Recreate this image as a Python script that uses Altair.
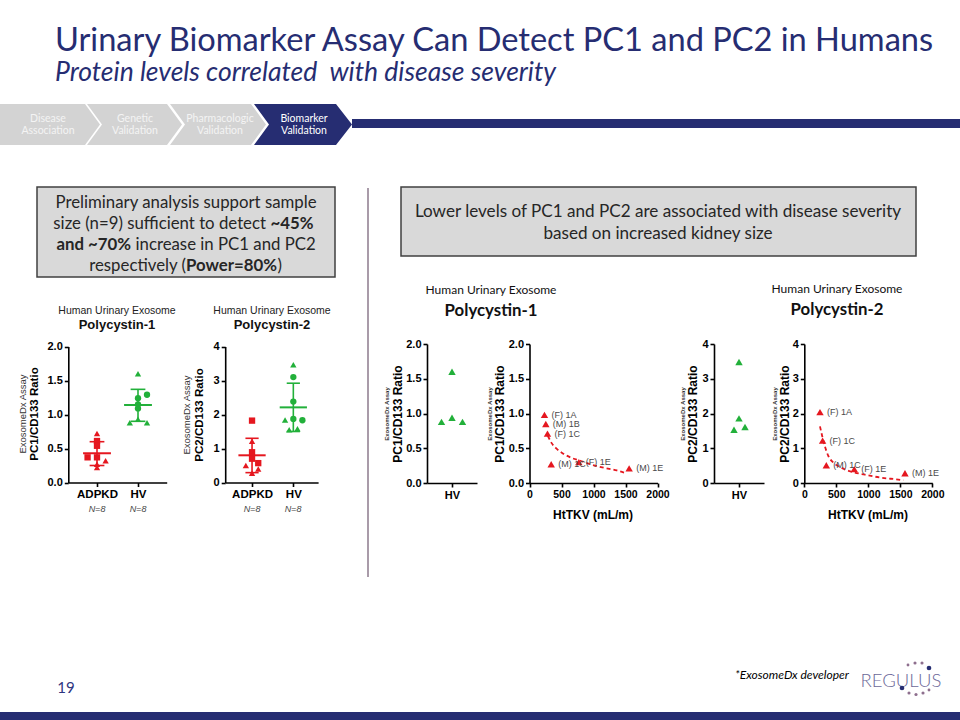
import altair as alt
import pandas as pd

W, H = 960, 720
NAVY = "#262D72"
RED = "#E5171F"
GREEN = "#22B03A"
FONT = "Lato"
ARIAL = "Liberation Sans"
NB = "\u00a0"

# ---------------- data ----------------
pc1_adpkd = [0.72, 0.61, 0.54, 0.37, 0.37, 0.32, 0.27, 0.22]
pc1_adpkd_shape = ["triangle-up", "square", "square", "square", "square", "triangle-up", "triangle-up", "triangle-up"]
pc1_adpkd_jit = [0, 0, 0, -0.23, 0, 0.21, 0, 0]
pc1_hv = [1.60, 1.29, 1.24, 1.15, 1.09, 0.93, 0.88, 0.88]
pc1_hv_shape = ["triangle-up", "circle", "circle", "circle", "circle", "triangle-up", "triangle-up", "triangle-up"]
pc1_hv_jit = [0, 0.22, 0, 0, 0, 0, -0.2, 0.22]
pc1_mean = [0.43, 1.14]
pc1_sd_lo = [0.25, 0.90]
pc1_sd_hi = [0.60, 1.37]

pc2_adpkd = [1.82, 1.21, 0.89, 0.70, 0.57, 0.50, 0.40, 0.27]
pc2_adpkd_shape = ["square", "triangle-up", "square", "square", "square", "triangle-up", "triangle-up", "triangle-up"]
pc2_adpkd_jit = [0, 0, 0, 0, 0.15, -0.15, 0.15, 0]
pc2_hv = [3.46, 3.10, 2.38, 1.87, 1.84, 1.83, 1.58, 1.55]
pc2_hv_shape = ["triangle-up", "circle", "circle", "circle", "triangle-up", "circle", "triangle-up", "triangle-up"]
pc2_hv_jit = [0, 0, 0, 0, -0.2, 0.22, 0.1, -0.1]
pc2_mean = [0.80, 2.21]
pc2_sd_lo = [0.29, 1.50]
pc2_sd_hi = [1.30, 2.92]

hv_pc1 = [1.60, 0.94, 0.88, 0.88]
hv_pc1_jit = [0, 0, -0.42, 0.42]
hv_pc2 = [3.48, 1.86, 1.61, 1.53]
hv_pc2_jit = [0, 0, 0.24, -0.2]

tkv_pc1_labels = ["(F) 1A", "(M) 1B", "(F) 1C", "(M) 1C", "(F) 1E", "(M) 1E"]
tkv_pc1_x = [234, 255, 281, 339, 771, 1557]
tkv_pc1_y = [0.98, 0.85, 0.71, 0.27, 0.30, 0.21]
fit_pc1_x = [286, 349, 427, 531, 661, 792, 948, 1156, 1365, 1505]
fit_pc1_y = [0.68, 0.57, 0.49, 0.42, 0.36, 0.32, 0.27, 0.22, 0.18, 0.14]

tkv_pc2_labels = ["(F) 1A", "(F) 1C", "(M) 1C", "(F) 1E", "(M) 1E"]
tkv_pc2_x = [245, 286, 344, 781, 1573]
tkv_pc2_y = [2.04, 1.22, 0.51, 0.40, 0.28]
fit_pc2_x = [245, 281, 323, 375, 453, 557, 729, 948, 1208, 1469, 1547]
fit_pc2_y = [1.63, 1.34, 1.05, 0.78, 0.59, 0.46, 0.33, 0.24, 0.15, 0.10, 0.08]

groups = ["ADPKD", "HV"]

# ---------------- helpers ----------------
def sc(domain, rng):
    return alt.Scale(domain=domain, range=rng, nice=False, zero=False)


def ax_style(size=11):
    return dict(grid=False, title=None, labelFont=ARIAL, labelFontWeight="bold",
                labelFontSize=size, labelColor="black", domainColor="black",
                domainWidth=1.6, tickColor="black", tickWidth=1.6, tickSize=4,
                labelPadding=2, labelOverlap=False, labelFlush=False, labelBound=False)


def y_axis(xpix, values, fmt):
    return alt.Axis(orient="left", offset=-xpix, values=values, format=fmt, **ax_style(11))


def x_axis(ypix, values, expr=None, fmt=None, size=11):
    kw = ax_style(size)
    if expr:
        kw["labelExpr"] = expr
    if fmt:
        kw["format"] = fmt
    return alt.Axis(orient="bottom", offset=ypix - H, values=values, **kw)


ONE = pd.DataFrame({"a": [0]})


def txt(s, x, y, size=12, weight="normal", color="#222222", font=FONT,
        align="center", angle=0, style="normal", baseline="middle"):
    kw = dict(text=s, fontSize=size, fontWeight=weight, color=color, font=font,
              align=align, baseline=baseline, fontStyle=style)
    if angle:
        kw["angle"] = angle
    return alt.Chart(ONE).mark_text(**kw).encode(x=alt.value(x), y=alt.value(y))


def path_shape(p, color):
    return alt.Chart(ONE).mark_point(shape=p, size=4, filled=True, opacity=1,
                                     color=color, strokeWidth=0).encode(
        x=alt.value(0), y=alt.value(0))


def rect(x1, x2, y1, y2, fill, stroke=None, sw=0):
    kw = dict(fill=fill, opacity=1)
    if stroke:
        kw.update(stroke=stroke, strokeWidth=sw)
    return alt.Chart(ONE).mark_rect(**kw).encode(
        x=alt.value(x1), x2=alt.value(x2), y=alt.value(y1), y2=alt.value(y2))


def group_panel(vals, shapes, jits, means, los, his, xsc, ysc, xax, yax, mw, cw, size):
    rows = []
    for gi, (v, s, j) in enumerate(zip(vals, shapes, jits)):
        for vv, ss, jj in zip(v, s, j):
            rows.append({"xpos": gi + 1 + jj, "val": vv, "shape": ss,
                         "col": RED if gi == 0 else GREEN})
    df = pd.DataFrame(rows)
    st = pd.DataFrame({"g": [1, 2], "mean": means, "lo": los, "hi": his,
                       "col": [RED, GREEN]})
    st["ml"] = st["g"] - mw
    st["mr"] = st["g"] + mw
    st["cl"] = st["g"] - cw
    st["cr"] = st["g"] + cw
    col = alt.Color("col:N", scale=None, legend=None)
    pts = alt.Chart(df).mark_point(filled=True, opacity=1, size=size, strokeWidth=0).encode(
        x=alt.X("xpos:Q", scale=xsc, axis=xax),
        y=alt.Y("val:Q", scale=ysc, axis=yax),
        shape=alt.Shape("shape:N", scale=None, legend=None),
        color=col)
    b = alt.Chart(st)
    mean = b.mark_rule(strokeWidth=2).encode(
        x=alt.X("ml:Q", scale=xsc, axis=None), x2="mr:Q",
        y=alt.Y("mean:Q", scale=ysc, axis=None), color=col)
    vert = b.mark_rule(strokeWidth=1.6).encode(
        x=alt.X("g:Q", scale=xsc, axis=None),
        y=alt.Y("lo:Q", scale=ysc, axis=None), y2="hi:Q", color=col)
    caplo = b.mark_rule(strokeWidth=1.6).encode(
        x=alt.X("cl:Q", scale=xsc, axis=None), x2="cr:Q",
        y=alt.Y("lo:Q", scale=ysc, axis=None), color=col)
    caphi = b.mark_rule(strokeWidth=1.6).encode(
        x=alt.X("cl:Q", scale=xsc, axis=None), x2="cr:Q",
        y=alt.Y("hi:Q", scale=ysc, axis=None), color=col)
    return [vert, caplo, caphi, mean, pts]


def hv_panel(vals, jits, xsc, ysc, xax, yax):
    df = pd.DataFrame({"xpos": [1 + j for j in jits], "val": vals})
    return [alt.Chart(df).mark_point(shape="triangle-up", filled=True, opacity=1,
                                     size=55, color=GREEN, strokeWidth=0).encode(
        x=alt.X("xpos:Q", scale=xsc, axis=xax),
        y=alt.Y("val:Q", scale=ysc, axis=yax))]


def tkv_panel(lbl, xs, ys, fx, fy, xsc, ysc, xax, yax):
    df = pd.DataFrame({"tkv": xs, "val": ys, "lbl": lbl})
    fit = pd.DataFrame({"tkv": fx, "val": fy})
    line = alt.Chart(fit).mark_line(color=RED, strokeDash=[4, 3], strokeWidth=1.8,
                                    interpolate="monotone").encode(
        x=alt.X("tkv:Q", scale=xsc, axis=None),
        y=alt.Y("val:Q", scale=ysc, axis=None))
    pts = alt.Chart(df).mark_point(shape="triangle-up", filled=True, opacity=1,
                                   size=55, color=RED, strokeWidth=0).encode(
        x=alt.X("tkv:Q", scale=xsc, axis=xax),
        y=alt.Y("val:Q", scale=ysc, axis=yax))
    lab = alt.Chart(df).mark_text(align="left", dx=7, fontSize=9, font=ARIAL,
                                  color="#4a4a4a").encode(
        x=alt.X("tkv:Q", scale=xsc, axis=None),
        y=alt.Y("val:Q", scale=ysc, axis=None), text="lbl:N")
    return [line, pts, lab]


layers = []

# ---------------- slide decoration ----------------
layers.append(txt("Urinary Biomarker Assay Can Detect PC1 and PC2 in Humans", 55, 51,
                  size=32.6, color=NAVY, align="left", baseline="alphabetic"))
layers.append(txt("Protein levels correlated" + NB + " with disease severity", 55, 81,
                  size=26.5, color=NAVY, align="left", style="italic", baseline="alphabetic"))

# chevron process bar
layers.append(path_shape("M352,119L960,119L960,128L352,128Z", NAVY))
layers.append(path_shape("M0,104L85,104L100,124.5L85,145L0,145Z", "#D3D3D3"))
layers.append(path_shape("M87,104L167,104L182,124.5L167,145L87,145L102,124.5Z", "#D3D3D3"))
layers.append(path_shape("M170,104L251,104L266,124.5L251,145L170,145L185,124.5Z", "#D3D3D3"))
layers.append(path_shape("M254,104L336,104L352,124.5L336,145L254,145L269,124.5Z", NAVY))
for (a, b_, xc, c) in [("Disease", "Association", 48, "#F4F4F4"),
                       ("Genetic", "Validation", 135, "#F4F4F4"),
                       ("Pharmacologic", "Validation", 220, "#F4F4F4"),
                       ("Biomarker", "Validation", 304, "white")]:
    layers.append(txt(a, xc, 119, size=10.5, color=c))
    layers.append(txt(b_, xc, 131, size=10.5, color=c))

# text boxes
layers.append(rect(37, 335, 187, 277, "#D9D9D9", "#404040", 1.5))
layers.append(rect(401, 916, 187, 256, "#D9D9D9", "#404040", 1.5))
BT = "#262626"
FS = 16.8
layers.append(txt("Preliminary analysis support sample", 186, 203, size=FS, color=BT))
layers.append(txt("size (n=9) sufficient to detect", 266, 224, size=FS, color=BT, align="right"))
layers.append(txt("~45%", 270.5, 224, size=FS, color=BT, align="left", weight="bold"))
layers.append(txt("and ~70%", 131, 245, size=FS, color=BT, align="right", weight="bold"))
layers.append(txt("increase in PC1 and PC2", 135.5, 245, size=FS, color=BT, align="left"))
layers.append(txt("respectively (", 186, 266, size=FS, color=BT, align="right"))
layers.append(txt("Power=80%", 186, 266, size=FS, color=BT, align="left", weight="bold"))
layers.append(txt(")", 277.5, 266, size=FS, color=BT, align="left"))
layers.append(txt("Lower levels of PC1 and PC2 are associated with disease severity", 658, 212, size=17.1, color=BT))
layers.append(txt("based on increased kidney size", 658, 234, size=17.1, color=BT))

# separator
layers.append(alt.Chart(ONE).mark_rule(color="#8C7A8C", strokeWidth=1.5).encode(
    x=alt.value(368), y=alt.value(188), y2=alt.value(577)))

# panel headers
for xc, name in [(117, "Polycystin-1"), (272, "Polycystin-2")]:
    layers.append(txt("Human Urinary Exosome", xc, 311, size=10.5, font=ARIAL, color="#222"))
    layers.append(txt(name, xc, 325, size=13, font=ARIAL, weight="bold", color="#111"))
for xc, yc, name in [(491, 290, "Polycystin-1"), (837, 289, "Polycystin-2")]:
    layers.append(txt("Human Urinary Exosome", xc, yc, size=12, color="#111"))
    layers.append(txt(name, xc, yc + 21, size=16.8, weight="bold", color="#111"))

# y axis titles
for x1, x2, yc, t in [(23, 35, 414, "PC1/CD133 Ratio"), (187, 200, 415, "PC2/CD133 Ratio")]:
    layers.append(txt("ExosomeDx Assay", x1, yc, size=9.5, font=ARIAL, color="#333", angle=270))
    layers.append(txt(t, x2, yc, size=11.5, font=ARIAL, weight="bold", color="black", angle=270))
for x1, x2, t in [(387, 398, "PC1/CD133 Ratio"), (490, 500, "PC1/CD133 Ratio"),
                  (683, 693, "PC2/CD133 Ratio"), (775, 785, "PC2/CD133 Ratio")]:
    layers.append(txt("ExosomeDx Assay", x1, 414, size=6, font=ARIAL, weight="bold", color="#333", angle=270))
    layers.append(txt(t, x2, 414, size=12, font=ARIAL, weight="bold", color="black", angle=270))

# N=8 labels & x titles
for xc in [97, 138, 252, 293]:
    layers.append(txt("N=8", xc, 509, size=9, font=ARIAL, style="italic", color="#444"))
for xc in [593, 868]:
    layers.append(txt("HtTKV (mL/m)", xc, 515, size=12, font=ARIAL, weight="bold", color="black"))

# footer
layers.append(txt("19", 66, 688, size=15, color="#2E3580"))
layers.append(txt("*ExosomeDx developer", 792, 675, size=12, color="black", style="italic"))
layers.append(txt("REGULUS", 901, 681, size=18.5, color="#6C6898", weight=300))
logo = pd.DataFrame({
    "px": [908, 915, 922, 929, 902, 909, 916, 923, 929],
    "py": [665, 663, 663, 668, 688, 693, 694.5, 693, 690],
    "sz": [8, 10, 10, 22, 22, 10, 10, 10, 8],
    "c": ["#8E6F8E", "#8E6F8E", "#8E6F8E", NAVY, NAVY, "#8E6F8E", "#8E6F8E", "#8E6F8E", "#8E6F8E"],
})
layers.append(alt.Chart(logo).mark_circle(opacity=1).encode(
    x=alt.X("px:Q", scale=None), y=alt.Y("py:Q", scale=None),
    size=alt.Size("sz:Q", scale=None, legend=None),
    color=alt.Color("c:N", scale=None, legend=None)))
layers.append(rect(0, 960, 712, 720, NAVY))

# ---------------- data panels ----------------
# Panel 1: PC1 ADPKD vs HV
layers += group_panel([pc1_adpkd, pc1_hv], [pc1_adpkd_shape, pc1_hv_shape],
                      [pc1_adpkd_jit, pc1_hv_jit], pc1_mean, pc1_sd_lo, pc1_sd_hi,
                      sc([0.3, 2.7], [68.3, 166.7]), sc([0, 2], [482.5, 346.5]),
                      x_axis(482.5, [1, 2], "datum.value == 1 ? 'ADPKD' : 'HV'", size=11.5),
                      y_axis(68.3, [0, 0.5, 1, 1.5, 2], ".1f"), 0.34, 0.18, 40)
# Panel 2: PC2 ADPKD vs HV
layers += group_panel([pc2_adpkd, pc2_hv], [pc2_adpkd_shape, pc2_hv_shape],
                      [pc2_adpkd_jit, pc2_hv_jit], pc2_mean, pc2_sd_lo, pc2_sd_hi,
                      sc([0.35, 2.6], [225.2, 318.1]), sc([0, 4], [482.5, 346.5]),
                      x_axis(482.5, [1, 2], "datum.value == 1 ? 'ADPKD' : 'HV'", size=11.5),
                      y_axis(225.2, [0, 1, 2, 3, 4], "d"), 0.33, 0.16, 40)
# Panel 3: PC1 HV
layers += hv_panel(hv_pc1, hv_pc1_jit, sc([0, 2], [427, 477]), sc([0, 2], [483, 344]),
                   x_axis(483, [1], "'HV'"), y_axis(427, [0, 0.5, 1, 1.5, 2], ".1f"))
# Panel 4: PC1 vs HtTKV
layers += tkv_panel(tkv_pc1_labels, tkv_pc1_x, tkv_pc1_y, fit_pc1_x, fit_pc1_y,
                    sc([0, 2000], [529.5, 657.5]), sc([0, 2], [483, 344]),
                    x_axis(483, [0, 500, 1000, 1500, 2000], fmt="d", size=10.5),
                    y_axis(529.5, [0, 0.5, 1, 1.5, 2], ".1f"))
# Panel 5: PC2 HV
layers += hv_panel(hv_pc2, hv_pc2_jit, sc([0, 2], [714, 764]), sc([0, 4], [483, 344]),
                   x_axis(483, [1], "'HV'"), y_axis(714, [0, 1, 2, 3, 4], "d"))
# Panel 6: PC2 vs HtTKV
layers += tkv_panel(tkv_pc2_labels, tkv_pc2_x, tkv_pc2_y, fit_pc2_x, fit_pc2_y,
                    sc([0, 2000], [804.3, 932.3]), sc([0, 4], [483, 344]),
                    x_axis(483, [0, 500, 1000, 1500, 2000], fmt="d", size=10.5),
                    y_axis(804.3, [0, 1, 2, 3, 4], "d"))

chart = alt.layer(*layers).resolve_scale(
    x="independent", y="independent"
).resolve_axis(
    x="independent", y="independent"
).properties(
    width=W, height=H, background="white", padding=0,
    autosize=alt.AutoSizeParams(type="none"),
).configure_view(stroke=None)

chart.save("out.html", embed_options={"renderer": "svg", "actions": False})
